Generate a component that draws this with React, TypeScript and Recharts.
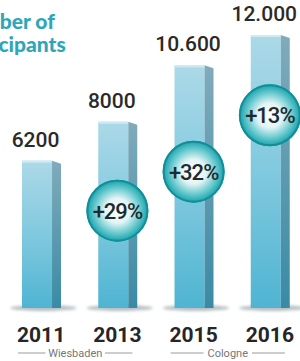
import { ComposedChart, Bar, Line, XAxis, YAxis, LabelList } from 'recharts';

const years = ['2011', '2013', '2015', '2016'];
const participants = [6200, 8000, 10600, 12000];
const valueLabels = ['6200', '8000', '10.600', '12.000'];
const growthLabels = ['', '+29%', '+32%', '+13%'];
const cities = ['Wiesbaden', 'Wiesbaden', 'Cologne', 'Cologne'];

const data = years.map((year, i) => ({
  year,
  value: participants[i],
  label: valueLabels[i],
  prev: i > 0 ? participants[i - 1] : null,
  growth: growthLabels[i],
  city: cities[i],
}));

const FONT = 'Roboto, "DejaVu Sans", sans-serif';

// 3d-ish column: light front face, darker side, soft shadow on the floor
const Column3D = (props: any) => {
  const { x, y, width, height, background } = props;
  if (x == null || y == null) return null;
  const bottom = background ? background.y + background.height : y + height;
  const faceW = width * 0.77;
  const h = bottom - y;
  return (
    <g>
      <ellipse cx={x + width / 2 + 2} cy={bottom} rx={width * 0.85} ry={3} fill="#7d8a90" opacity={0.55} filter="url(#soft)" />
      <rect x={x} y={y} width={faceW} height={h} fill="url(#face)" />
      <polygon
        points={`${x + faceW},${y} ${x + width},${y + 3} ${x + width},${bottom} ${x + faceW},${bottom}`}
        fill="url(#side)"
      />
      <rect x={x} y={y} width={faceW} height={2} fill="#cfeaf2" />
    </g>
  );
};

const TopLabel = (props: any) => {
  const { x, y, width, value } = props;
  return (
    <text x={x + width / 2 - 6} y={y - 14} textAnchor="middle" fontFamily={FONT} fontWeight={500} fontSize={21} fill="#2a2a2a">
      {value}
    </text>
  );
};

const Badge = (props: any) => {
  const { cx, cy, payload } = props;
  if (cy == null || !payload?.growth) return null;
  const by = cy + 50;
  return (
    <g key={payload.year}>
      <circle cx={cx} cy={by} r={31} fill="url(#badge)" />
      <circle cx={cx} cy={by} r={30} fill="none" stroke="#118f99" strokeWidth={2} />
      <text x={cx} y={by + 8} textAnchor="middle" fontFamily={FONT} fontWeight={500} fontSize={22} letterSpacing={-1} fill="#1d2a2e">
        {payload.growth}
      </text>
    </g>
  );
};

const YearTick = (props: any) => {
  const { x, y, payload, index } = props;
  const half = payload?.offset || 38;
  const city = cities[index];
  const starts = index === 0 || cities[index - 1] !== city;
  let bracket = null;
  if (starts) {
    const left = x - 23;
    const right = x + 2 * half + 15;
    const mid = (left + right) / 2;
    const gap = city.length * 5.5 + 10;
    bracket = (
      <g>
        <line x1={left} x2={mid - gap / 2} y1={y + 45} y2={y + 45} stroke="#9a9a9a" strokeWidth={1} />
        <line x1={mid + gap / 2} x2={right} y1={y + 45} y2={y + 45} stroke="#9a9a9a" strokeWidth={1} />
        <text x={mid} y={y + 49} textAnchor="middle" fontFamily={FONT} fontSize={11} fill="#777">
          {city}
        </text>
      </g>
    );
  }
  return (
    <g>
      <text x={x} y={y + 34} textAnchor="middle" fontFamily={FONT} fontWeight={700} fontSize={21} fill="#262626">
        {payload.value}
      </text>
      {bracket}
    </g>
  );
};

const titleStyle = {
  position: 'absolute' as const,
  left: -46,
  fontFamily: 'Lato, sans-serif',
  fontWeight: 900,
  fontSize: 21,
  color: '#2ea6ba',
  lineHeight: '23px',
  whiteSpace: 'nowrap' as const,
};

export default function App() {
  return (
    <div style={{ position: 'absolute', left: 0, top: 0, width: 300, height: 361, overflow: 'hidden', background: '#fff' }}>
      <div style={{ ...titleStyle, top: 9 }}>Number of</div>
      <div style={{ ...titleStyle, top: 32 }}>participants</div>
      <ComposedChart width={308} height={361} data={data} margin={{ top: 35, right: 0, bottom: 0, left: 3 }} barSize={39}>
        <defs>
          <linearGradient id="face" x1="0" y1="0" x2="0" y2="1">
            <stop offset="0%" stopColor="#acd9e8" />
            <stop offset="55%" stopColor="#7cc7dd" />
            <stop offset="100%" stopColor="#4fb4d2" />
          </linearGradient>
          <linearGradient id="side" x1="0" y1="0" x2="0" y2="1">
            <stop offset="0%" stopColor="#80abba" />
            <stop offset="100%" stopColor="#3a8aa5" />
          </linearGradient>
          <radialGradient id="badge" cx="50%" cy="50%" r="50%">
            <stop offset="0%" stopColor="#ffffff" />
            <stop offset="40%" stopColor="#e3f4f5" />
            <stop offset="72%" stopColor="#6ccbd0" />
            <stop offset="100%" stopColor="#13a0a9" />
          </radialGradient>
          <filter id="soft" x="-50%" y="-200%" width="200%" height="500%">
            <feGaussianBlur stdDeviation="1.5" />
          </filter>
        </defs>
        <XAxis dataKey="year" axisLine={false} tickLine={false} tickSize={0} tickMargin={0} height={53} tick={<YearTick />} interval={0} />
        <YAxis hide domain={[-600, 12000]} />
        <Bar dataKey="value" shape={<Column3D />} isAnimationActive={false}>
          <LabelList dataKey="label" content={<TopLabel />} />
        </Bar>
        <Line dataKey="prev" stroke="none" dot={<Badge />} activeDot={false} isAnimationActive={false} />
      </ComposedChart>
    </div>
  );
}
